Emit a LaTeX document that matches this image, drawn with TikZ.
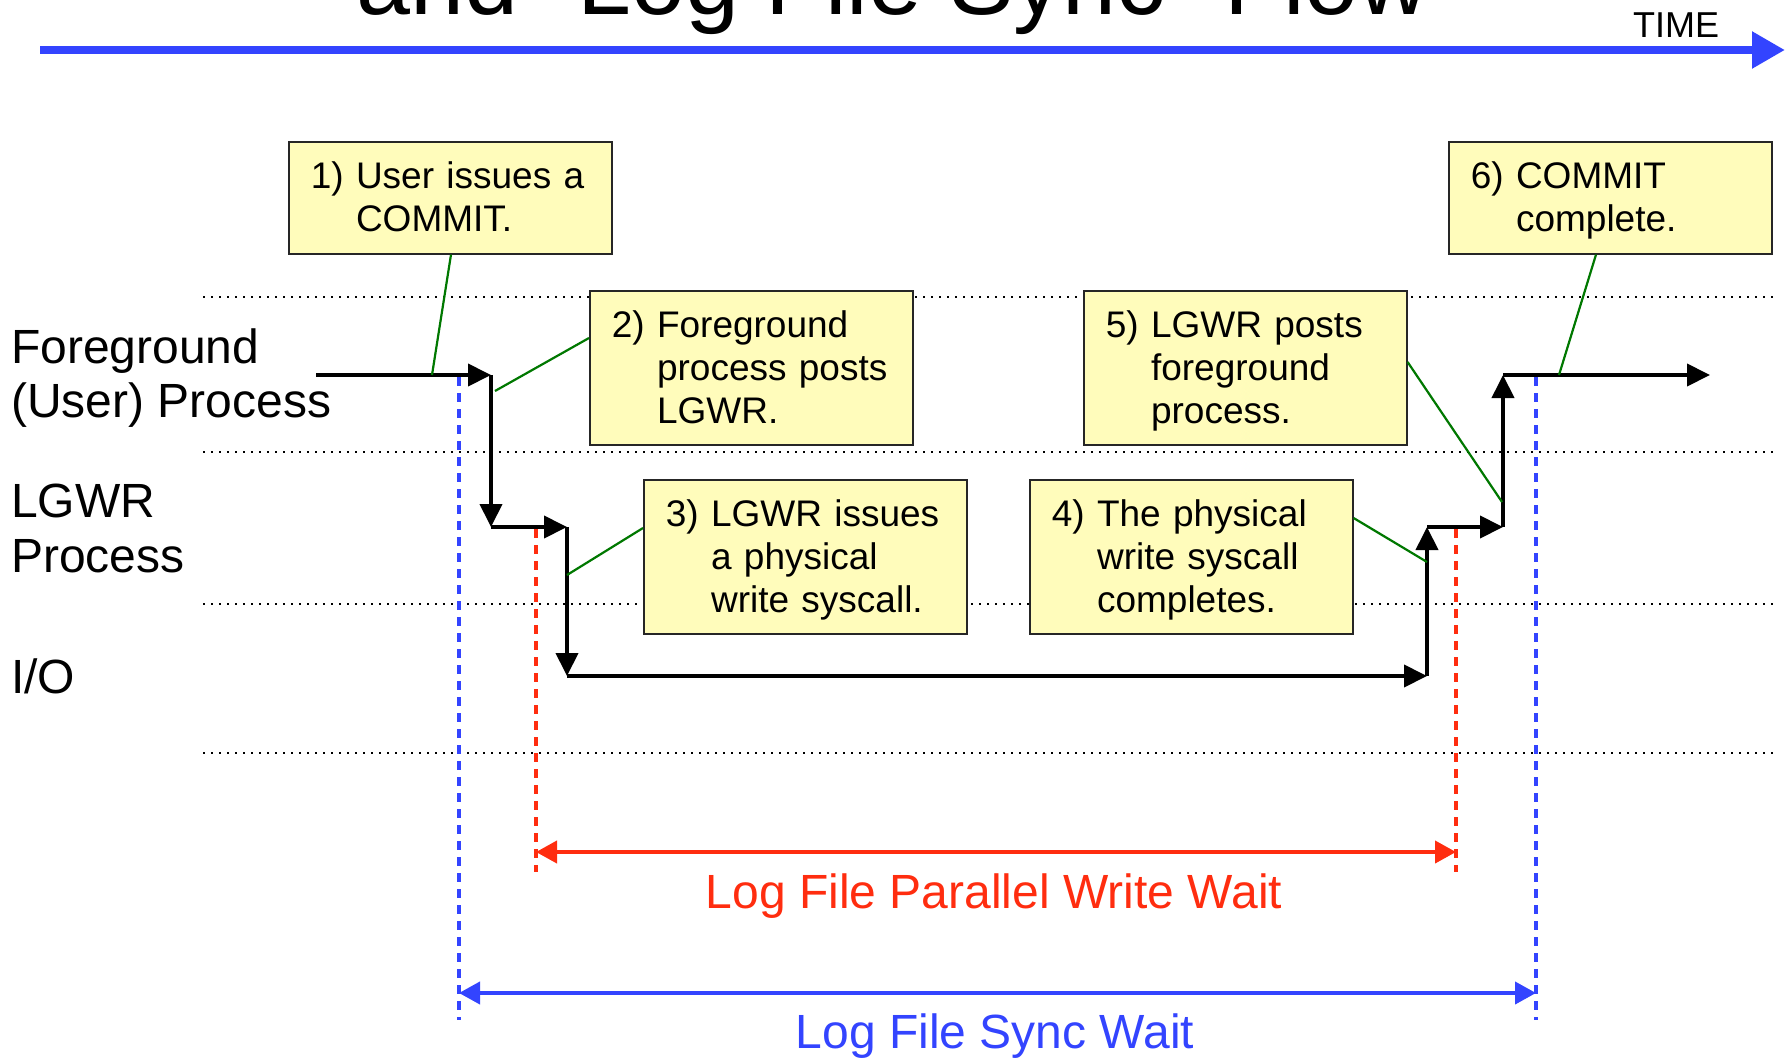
\documentclass[tikz,border=0pt]{standalone}
\usepackage{fontspec}
\setmainfont{Liberation Sans}
\usetikzlibrary{arrows.meta,calc}
\definecolor{tblue}{RGB}{51,68,255}
\definecolor{tred}{RGB}{255,45,15}
\definecolor{tgreen}{RGB}{0,120,0}
\definecolor{boxfill}{RGB}{255,252,187}
\newcommand{\steptext}[1]{\raisebox{-4pt}[\height][\depth]{\begin{tabular}{@{}l@{ }l@{}}#1\end{tabular}}}
\begin{document}
\begin{tikzpicture}[x=1pt,y=-1pt,
  flow/.style={line width=4pt,-{Triangle[length=23pt,width=22pt]}},
  callout/.style={tgreen,line width=2.2pt},
  lane/.style={line width=2.4pt,dash pattern=on 2.4pt off 5.6pt},
  vmark/.style={line width=3.5pt,dash pattern=on 9pt off 7pt},
  span/.style={line width=4pt,{Triangle[length=21pt,width=22pt]}-{Triangle[length=21pt,width=22pt]}},
  stepbox/.style={draw=black!85,line width=1.6pt,fill=boxfill,anchor=north west,
    inner xsep=22pt,inner ysep=0pt,align=left,text width=279pt,
    font=\fontsize{37}{43}\selectfont},
  lbl/.style={anchor=base west,inner sep=0pt,font=\fontsize{48}{54}\selectfont}]
\useasboundingbox (0,0) rectangle (1791,1060);
\fill[white] (0,0) rectangle (1791,1060);

% title (cut by the page edge)
\node[anchor=base west,inner sep=0pt,font=\fontsize{97}{110}\selectfont] (title) at (356,14) {and "Log File Sync" Flow};

% time axis
\coordinate (t0) at (40,50);
\coordinate (t1) at (1785,50);
\draw[tblue,line width=8.5pt,-{Triangle[length=33pt,width=35pt]}] (t0) -- (t1);
\node[anchor=base,inner sep=0pt,font=\fontsize{36}{40}\selectfont] (time) at (1676,37) {TIME};

% swim-lane separators
\foreach \yy/\nm in {297/d1,452/d2,604/d3,753/d4}{
  \coordinate (\nm a) at (203,\yy);
  \coordinate (\nm b) at (1773,\yy);
  \draw[lane] (\nm a) -- (\nm b);
}

% lane labels
\node[lbl] (fg1) at (11,363) {Foreground};
\node[lbl] (fg2) at (11,417) {(User) Process};
\node[lbl] (lg1) at (11,517) {LGWR};
\node[lbl] (lg2) at (11,572) {Process};
\node[lbl] (io) at (11,693) {I/O};

% wait markers
\coordinate (bl0) at (459,377);  \coordinate (bl1) at (459,1020);
\coordinate (br0) at (1536,377); \coordinate (br1) at (1536,1020);
\coordinate (rl0) at (536,529);  \coordinate (rl1) at (536,872);
\coordinate (rr0) at (1456,529); \coordinate (rr1) at (1456,872);
\draw[vmark,tblue] (bl0) -- (bl1);
\draw[vmark,tblue] (br0) -- (br1);
\draw[vmark,tred] (rl0) -- (rl1);
\draw[vmark,tred] (rr0) -- (rr1);

\coordinate (ra) at (536,852);  \coordinate (rb) at (1456,852);
\coordinate (ba) at (459,993);  \coordinate (bb) at (1536,993);
\draw[span,tred] (ra) -- (rb);
\draw[span,tblue] (ba) -- (bb);
\node[anchor=base,inner sep=0pt,text=tred,font=\fontsize{48}{54}\selectfont] (pw) at (994,908) {Log File Parallel Write Wait};
\node[anchor=base,inner sep=0pt,text=tblue,font=\fontsize{48}{54}\selectfont] (sw) at (995,1048) {Log File Sync Wait};

% process flow
\coordinate (f0) at (316,375);
\coordinate (f1) at (491,375);
\coordinate (l1) at (491,527);
\coordinate (l2) at (567,527);
\coordinate (o1) at (567,676);
\coordinate (o2) at (1427,676);
\coordinate (l3) at (1427,527);
\coordinate (l4) at (1503,527);
\coordinate (f2) at (1503,375);
\coordinate (f3) at (1710,375);
\draw[flow] (f0) -- (f1);
\draw[flow] (f1) -- (l1);
\draw[flow] (l1) -- (l2);
\draw[flow] (l2) -- (o1);
\draw[flow] (o1) -- (o2);
\draw[flow] (o2) -- (l3);
\draw[flow] (l3) -- (l4);
\draw[flow] (l4) -- (f2);
\draw[flow] (f2) -- (f3);

% step boxes
\node[stepbox,minimum height=112pt] (b1) at (288,141)
  {\steptext{1)&User issues a\\&COMMIT.}};
\node[stepbox,minimum height=154pt] (b2) at (589,290)
  {\steptext{2)&Foreground\\&process posts\\&LGWR.}};
\node[stepbox,minimum height=154pt] (b3) at (643,479)
  {\steptext{3)&LGWR issues\\&a physical\\&write syscall.}};
\node[stepbox,minimum height=154pt] (b4) at (1029,479)
  {\steptext{4)&The physical\\&write syscall\\&completes.}};
\node[stepbox,minimum height=154pt] (b5) at (1083,290)
  {\steptext{5)&LGWR posts\\&foreground\\&process.}};
\node[stepbox,minimum height=112pt] (b6) at (1448,141)
  {\steptext{6)&COMMIT\\&complete.}};

% callout connectors
\coordinate (c1) at (432,375);
\coordinate (c2) at (495,391);
\coordinate (c3) at (567,575);
\coordinate (c4) at (1427,562);
\coordinate (c5) at (1502,502);
\coordinate (c6) at (1559,375);
\draw[callout] ($(b1.south west)+(163,0)$) -- (c1);
\draw[callout] ($(b2.north west)+(0,48)$) -- (c2);
\draw[callout] ($(b3.north west)+(0,49)$) -- (c3);
\draw[callout] ($(b4.north east)+(0,39)$) -- (c4);
\draw[callout] ($(b5.north east)+(0,72)$) -- (c5);
\draw[callout] ($(b6.south west)+(148,0)$) -- (c6);
\end{tikzpicture}
\end{document}
